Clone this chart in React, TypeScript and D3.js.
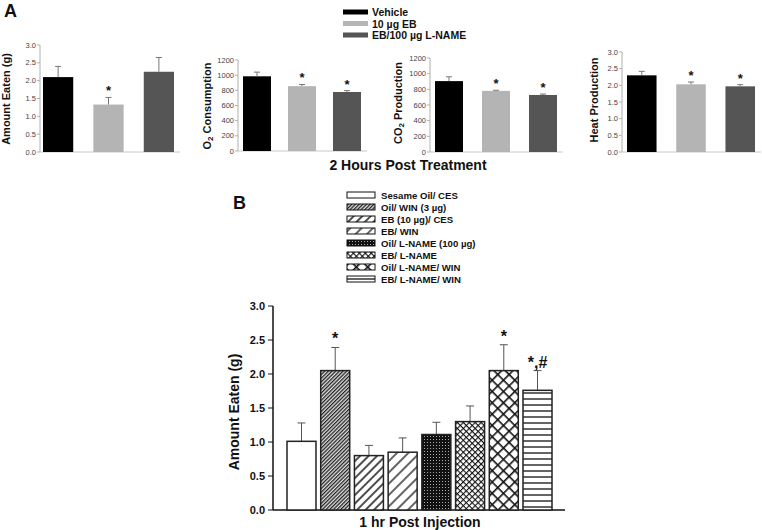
import React from "react";
import * as d3 from "d3";

const W = 762;
const H = 530;
const FONT = "'Liberation Sans', Arial, Helvetica, sans-serif";

// ---------- Panel A data ----------
const groupsA = ["Vehicle", "10 µg EB", "EB/100 µg L-NAME"];
const colorsA = ["#000000", "#b4b4b4", "#555555"];

const amountEaten = [2.1, 1.33, 2.25];
const amountEatenErr = [0.3, 0.2, 0.4];
const amountEatenSig = ["", "*", ""];

const o2Consumption = [985, 855, 778];
const o2Err = [55, 22, 18];
const o2Sig = ["", "*", "*"];

const co2Production = [905, 780, 728];
const co2Err = [55, 8, 12];
const co2Sig = ["", "*", "*"];

const heatProduction = [2.3, 2.03, 1.97];
const heatErr = [0.12, 0.07, 0.05];
const heatSig = ["", "*", "*"];

const ticksA3 = [0, 0.5, 1.0, 1.5, 2.0, 2.5, 3.0];
const ticksA1200 = [0, 200, 400, 600, 800, 1000, 1200];

// ---------- Panel B data ----------
const groupsB = [
  "Sesame Oil/ CES",
  "Oil/ WIN (3 µg)",
  "EB (10 µg)/ CES",
  "EB/ WIN",
  "Oil/ L-NAME (100 µg)",
  "EB/ L-NAME",
  "Oil/ L-NAME/ WIN",
  "EB/ L-NAME/ WIN",
];
const valuesB = [1.01, 2.05, 0.8, 0.85, 1.11, 1.3, 2.05, 1.76];
const errB = [0.27, 0.34, 0.15, 0.21, 0.18, 0.23, 0.38, 0.29];
const sigB = ["", "*", "", "", "", "", "*", "*,#"];
const ticksB = [0, 0.5, 1.0, 1.5, 2.0, 2.5, 3.0];
const patternsB = ["none", "p2", "p3", "p4", "p5", "p6", "p7", "p8"];

type ChartA = {
  values: number[];
  errs: number[];
  sig: string[];
  ticks: number[];
  fmt: (v: number) => string;
  max: number;
  axisX: number;
  xRange: [number, number];
  pad: number;
  yTop: number;
  yBottom: number;
  label: React.ReactNode;
  labelX: number;
  labelY: number;
};

const fmt1 = (v: number) => v.toFixed(1);
const fmt0 = (v: number) => String(v);

const chartsA: ChartA[] = [
  {
    values: amountEaten, errs: amountEatenErr, sig: amountEatenSig,
    ticks: ticksA3, fmt: fmt1, max: 3,
    axisX: 40, xRange: [43, 174], pad: 0.4, yTop: 45, yBottom: 152,
    label: "Amount Eaten (g)", labelX: 6, labelY: 99,
  },
  {
    values: o2Consumption, errs: o2Err, sig: o2Sig,
    ticks: ticksA1200, fmt: fmt0, max: 1200,
    axisX: 238, xRange: [243, 361], pad: 0.378, yTop: 60, yBottom: 151,
    label: (
      <>
        O<tspan dy={3} fontSize={8}>2</tspan>
        <tspan dy={-3}> Consumption</tspan>
      </>
    ),
    labelX: 207, labelY: 106,
  },
  {
    values: co2Production, errs: co2Err, sig: co2Sig,
    ticks: ticksA1200, fmt: fmt0, max: 1200,
    axisX: 430, xRange: [435, 557], pad: 0.404, yTop: 58, yBottom: 152,
    label: (
      <>
        CO<tspan dy={3} fontSize={8}>2</tspan>
        <tspan dy={-3}> Production</tspan>
      </>
    ),
    labelX: 398, labelY: 103,
  },
  {
    values: heatProduction, errs: heatErr, sig: heatSig,
    ticks: ticksA3, fmt: fmt1, max: 3,
    axisX: 622, xRange: [627, 755], pad: 0.4, yTop: 52, yBottom: 152,
    label: "Heat Production", labelX: 594, labelY: 100,
  },
];

function PanelAChart({ c }: { c: ChartA }) {
  const x = d3
    .scaleBand<number>()
    .domain(d3.range(c.values.length))
    .range(c.xRange)
    .paddingInner(c.pad)
    .paddingOuter(0);
  const y = d3.scaleLinear().domain([0, c.max]).range([c.yBottom, c.yTop]);
  const bw = x.bandwidth();
  return (
    <g>
      <line x1={c.axisX} x2={c.axisX} y1={y(0)} y2={y(c.max)} stroke="#b0b0b0" strokeWidth={1} />
      <line x1={c.axisX} x2={c.xRange[1] + 6} y1={y(0)} y2={y(0)} stroke="#c8c8c8" strokeWidth={1} />
      {c.ticks.map((t) => (
        <g key={t}>
          <line x1={c.axisX - 3} x2={c.axisX} y1={y(t)} y2={y(t)} stroke="#b0b0b0" />
          <text
            x={c.axisX - 4}
            y={y(t)}
            textAnchor="end"
            dominantBaseline="central"
            fontSize={7.5}
            fill="#444"
            fontFamily={FONT}
          >
            {c.fmt(t)}
          </text>
        </g>
      ))}
      {c.values.map((v, i) => {
        const bx = x(i)!;
        const cx = bx + bw / 2;
        const top = y(v + c.errs[i]);
        return (
          <g key={i}>
            <rect x={bx} y={y(v)} width={bw} height={y(0) - y(v)} fill={colorsA[i]} />
            <line x1={cx} x2={cx} y1={y(v)} y2={top} stroke="#777" strokeWidth={1} />
            <line x1={cx - 3} x2={cx + 3} y1={top} y2={top} stroke="#777" strokeWidth={1} />
            {c.sig[i] && (
              <text
                x={cx}
                y={top - 2}
                textAnchor="middle"
                fontSize={13}
                fontWeight="bold"
                fontFamily={FONT}
                fill="#111"
              >
                {c.sig[i]}
              </text>
            )}
          </g>
        );
      })}
      <text
        transform={`translate(${c.labelX},${c.labelY}) rotate(-90)`}
        textAnchor="middle"
        dominantBaseline="central"
        fontSize={11}
        fontWeight="bold"
        fontFamily={FONT}
        fill="#111"
      >
        {c.label}
      </text>
    </g>
  );
}

function PanelB() {
  const x = d3
    .scaleBand<number>()
    .domain(d3.range(valuesB.length))
    .range([287, 552])
    .paddingInner(0.14)
    .paddingOuter(0);
  const y = d3.scaleLinear().domain([0, 3]).range([510, 306]);
  const bw = x.bandwidth();
  const fillFor = (p: string) => (p === "none" ? "#fff" : `url(#${p})`);
  return (
    <g fontFamily={FONT}>
      <text x={233} y={209} fontSize={18} fontWeight="bold" fill="#111">B</text>
      {groupsB.map((g, i) => {
        const ly = 195 + i * 12;
        return (
          <g key={g}>
            <rect x={347} y={ly - 3} width={28} height={6} fill={fillFor(patternsB[i])} stroke="#111" strokeWidth={1} />
            <text x={381} y={ly} dominantBaseline="central" fontSize={9.6} fontWeight="bold" fill="#111">
              {g}
            </text>
          </g>
        );
      })}
      <line x1={273} x2={273} y1={y(0)} y2={y(3)} stroke="#111" strokeWidth={1.5} />
      <line x1={273} x2={565} y1={y(0)} y2={y(0)} stroke="#111" strokeWidth={1.5} />
      {ticksB.map((t) => (
        <g key={t}>
          <line x1={268} x2={273} y1={y(t)} y2={y(t)} stroke="#111" strokeWidth={1} />
          <text x={265} y={y(t)} textAnchor="end" dominantBaseline="central" fontSize={11} fontWeight="bold" fill="#111">
            {t.toFixed(1)}
          </text>
        </g>
      ))}
      {valuesB.map((v, i) => {
        const bx = x(i)!;
        const cx = bx + bw / 2;
        const top = y(v + errB[i]);
        return (
          <g key={i}>
            <line x1={cx} x2={cx} y1={y(v)} y2={top} stroke="#555" strokeWidth={1} />
            <line x1={cx - 4} x2={cx + 4} y1={top} y2={top} stroke="#555" strokeWidth={1} />
            <rect x={bx} y={y(v)} width={bw} height={y(0) - y(v)} fill={fillFor(patternsB[i])} stroke="#222" strokeWidth={1.5} />
            {sigB[i] && (
              <text x={cx} y={top - 3} textAnchor="middle" fontSize={16} fontWeight="bold" fill="#111">
                {sigB[i]}
              </text>
            )}
          </g>
        );
      })}
      <text
        transform={`translate(234,412) rotate(-90)`}
        textAnchor="middle"
        dominantBaseline="central"
        fontSize={14}
        fontWeight="bold"
        fill="#111"
      >
        Amount Eaten (g)
      </text>
      <text x={420} y={527} textAnchor="middle" fontSize={14} fontWeight="bold" fill="#111">
        1 hr Post Injection
      </text>
    </g>
  );
}

export default function App() {
  return (
    <svg
      width={W}
      height={H}
      viewBox={`0 0 ${W} ${H}`}
      style={{ position: "absolute", left: 0, top: 0, background: "#fff" }}
    >
      <defs>
        <pattern id="p2" width={2.6} height={2.6} patternUnits="userSpaceOnUse" patternTransform="rotate(45)">
          <rect width={2.6} height={2.6} fill="#ddd" />
          <line x1={0.6} y1={0} x2={0.6} y2={2.6} stroke="#222" strokeWidth={1.3} />
        </pattern>
        <pattern id="p3" width={6} height={6} patternUnits="userSpaceOnUse" patternTransform="rotate(45)">
          <rect width={6} height={6} fill="#fff" />
          <line x1={1} y1={0} x2={1} y2={6} stroke="#111" strokeWidth={1.5} />
        </pattern>
        <pattern id="p4" width={8} height={8} patternUnits="userSpaceOnUse" patternTransform="rotate(45)">
          <rect width={8} height={8} fill="#fff" />
          <line x1={1} y1={0} x2={1} y2={8} stroke="#111" strokeWidth={1.3} />
        </pattern>
        <pattern id="p5" width={3} height={3} patternUnits="userSpaceOnUse">
          <rect width={3} height={3} fill="#111" />
          <rect x={1} y={1} width={1} height={1} fill="#aaa" />
        </pattern>
        <pattern id="p6" width={4.2} height={4.2} patternUnits="userSpaceOnUse" patternTransform="rotate(45)">
          <rect width={4.2} height={4.2} fill="#fff" />
          <line x1={0.5} y1={0} x2={0.5} y2={4.2} stroke="#111" strokeWidth={1.2} />
          <line x1={0} y1={0.5} x2={4.2} y2={0.5} stroke="#111" strokeWidth={1.2} />
        </pattern>
        <pattern id="p7" width={8} height={8} patternUnits="userSpaceOnUse" patternTransform="rotate(45)">
          <rect width={8} height={8} fill="#fff" />
          <line x1={0.8} y1={0} x2={0.8} y2={8} stroke="#111" strokeWidth={1.6} />
          <line x1={0} y1={0.8} x2={8} y2={0.8} stroke="#111" strokeWidth={1.6} />
        </pattern>
        <pattern id="p8" width={6} height={6} patternUnits="userSpaceOnUse">
          <rect width={6} height={6} fill="#fff" />
          <line x1={0} y1={3} x2={6} y2={3} stroke="#222" strokeWidth={1.4} />
        </pattern>
      </defs>

      <text x={4} y={17} fontSize={18} fontWeight="bold" fontFamily={FONT} fill="#111">A</text>
      {groupsA.map((g, i) => {
        const ly = 12 + i * 11.5;
        return (
          <g key={g}>
            <rect x={343} y={ly - 2.5} width={25} height={5} fill={colorsA[i]} />
            <text x={372} y={ly} dominantBaseline="central" fontSize={10.5} fontWeight="bold" fontFamily={FONT} fill="#111">
              {g}
            </text>
          </g>
        );
      })}
      {chartsA.map((c, i) => (
        <PanelAChart key={i} c={c} />
      ))}
      <text x={408} y={170} textAnchor="middle" fontSize={14} fontWeight="bold" fontFamily={FONT} fill="#111">
        2 Hours Post Treatment
      </text>

      <PanelB />
    </svg>
  );
}
